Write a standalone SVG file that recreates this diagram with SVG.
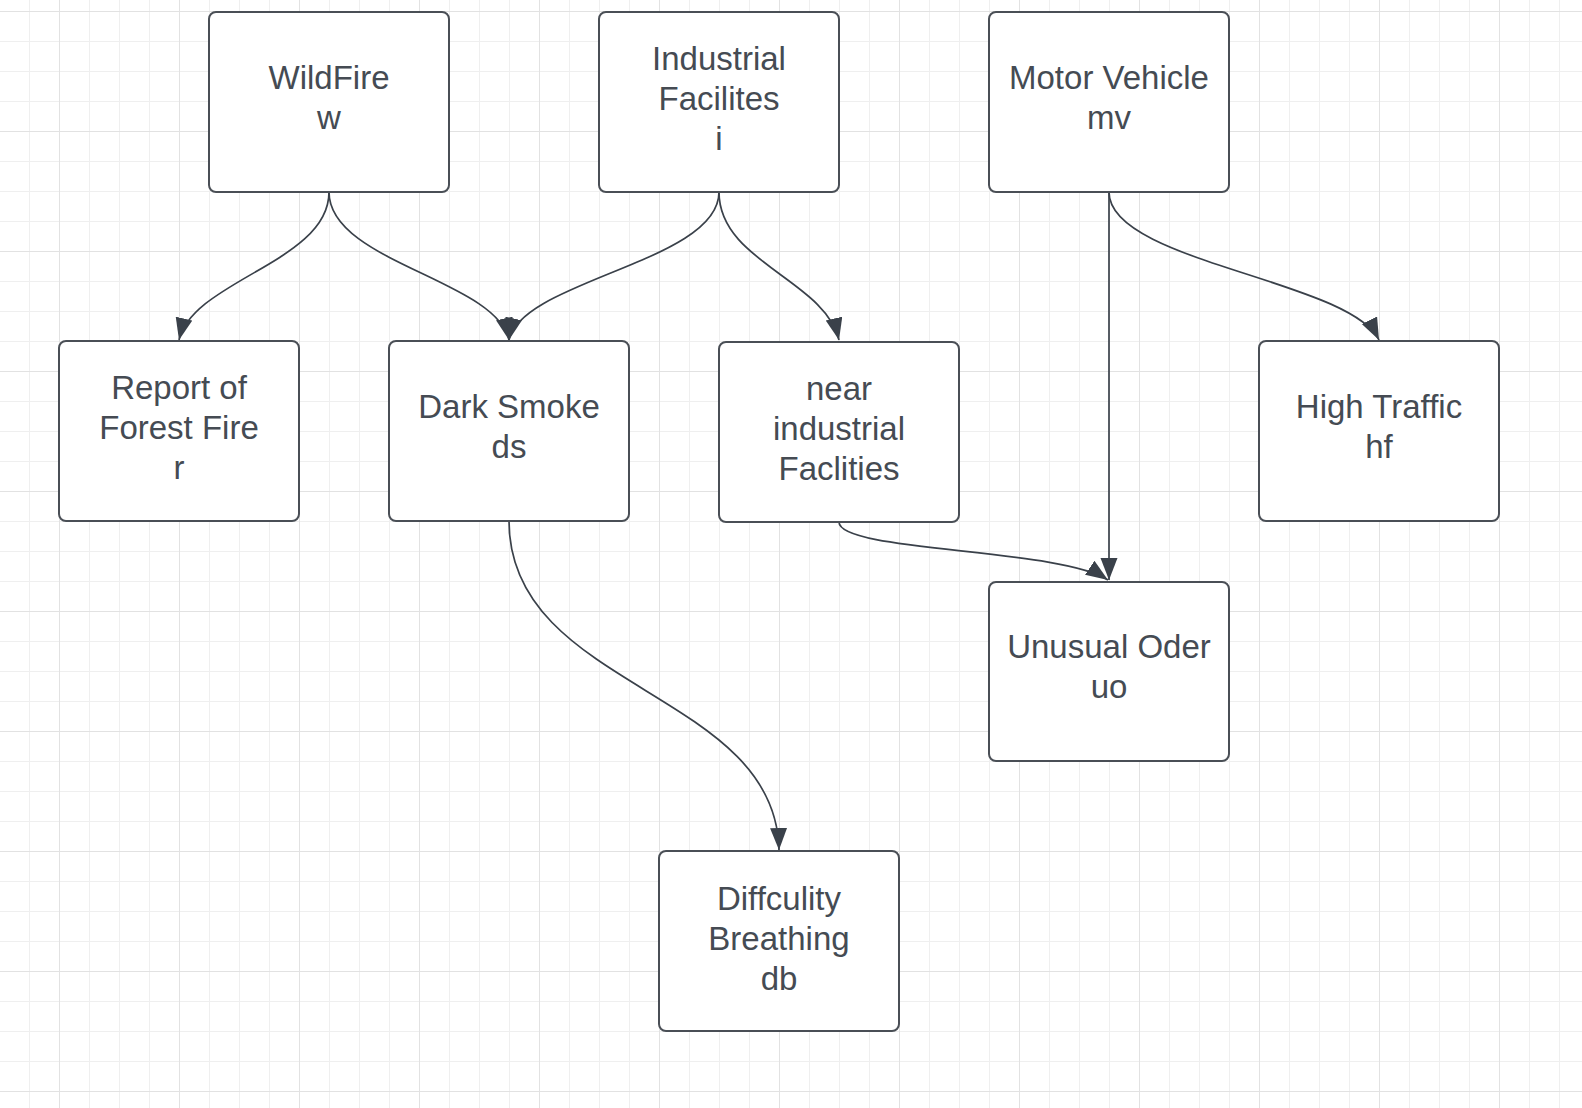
<svg xmlns="http://www.w3.org/2000/svg" width="1582" height="1108" viewBox="0 0 1582 1108">
  <defs>
    <pattern id="gridMinor" patternUnits="userSpaceOnUse" x="29" y="11" width="30" height="30">
      <rect x="0" y="0" width="1" height="30" fill="#efefef"/>
      <rect x="0" y="0" width="30" height="1" fill="#efefef"/>
    </pattern>
    <pattern id="gridMajor" patternUnits="userSpaceOnUse" x="59" y="11" width="120" height="120">
      <rect x="0" y="0" width="1" height="120" fill="#e2e2e2"/>
      <rect x="0" y="0" width="120" height="1" fill="#e2e2e2"/>
    </pattern>
    <marker id="arrow" markerUnits="userSpaceOnUse" markerWidth="24" markerHeight="18" refX="22" refY="8.5" orient="auto">
      <path d="M0,0 L22,8.5 L0,17 z" fill="#3a414a"/>
    </marker>
    <style>
      .box { fill: #ffffff; stroke: #4a4f56; stroke-width: 2; }
      .lbl { font-family: "Liberation Sans", Arial, sans-serif; font-size: 33px; fill: #454b53; text-anchor: middle; }
      .edge { fill: none; stroke: #3a414a; stroke-width: 1.7; marker-end: url(#arrow); }
    </style>
  </defs>

  <rect x="0" y="0" width="1582" height="1108" fill="#ffffff"/>
  <rect x="0" y="0" width="1582" height="1108" fill="url(#gridMinor)"/>
  <rect x="0" y="0" width="1582" height="1108" fill="url(#gridMajor)"/>

  <g id="connectors">
    <path class="edge" d="M329,192 C329,262 193,280 179,340"/>
    <path class="edge" d="M329,192 C329,262 496,280 509,340"/>
    <path class="edge" d="M719,192 C719,262 522,280 509,340"/>
    <path class="edge" d="M719,192 C719,262 825,280 839,340"/>
    <path class="edge" d="M1109,192 L1109,580"/>
    <path class="edge" d="M1109,192 C1109,262 1350,280 1379,340"/>
    <path class="edge" d="M839,522 C839,552 1060,548 1108,580"/>
    <path class="edge" d="M509,521 C509,690 776,690 779,850"/>
  </g>

  <g id="node-w">
    <rect class="box" x="209" y="12" width="240" height="180" rx="7"/>
    <text class="lbl" x="329" y="89">WildFire</text>
    <text class="lbl" x="329" y="129">w</text>
  </g>
  <g id="node-i">
    <rect class="box" x="599" y="12" width="240" height="180" rx="7"/>
    <text class="lbl" x="719" y="70">Industrial</text>
    <text class="lbl" x="719" y="110">Facilites</text>
    <text class="lbl" x="719" y="150">i</text>
  </g>
  <g id="node-mv">
    <rect class="box" x="989" y="12" width="240" height="180" rx="7"/>
    <text class="lbl" x="1109" y="89">Motor Vehicle</text>
    <text class="lbl" x="1109" y="129">mv</text>
  </g>
  <g id="node-r">
    <rect class="box" x="59" y="341" width="240" height="180" rx="7"/>
    <text class="lbl" x="179" y="399">Report of</text>
    <text class="lbl" x="179" y="439">Forest Fire</text>
    <text class="lbl" x="179" y="479">r</text>
  </g>
  <g id="node-ds">
    <rect class="box" x="389" y="341" width="240" height="180" rx="7"/>
    <text class="lbl" x="509" y="418">Dark Smoke</text>
    <text class="lbl" x="509" y="458">ds</text>
  </g>
  <g id="node-ni">
    <rect class="box" x="719" y="342" width="240" height="180" rx="7"/>
    <text class="lbl" x="839" y="400">near</text>
    <text class="lbl" x="839" y="440">industrial</text>
    <text class="lbl" x="839" y="480">Faclities</text>
  </g>
  <g id="node-hf">
    <rect class="box" x="1259" y="341" width="240" height="180" rx="7"/>
    <text class="lbl" x="1379" y="418">High Traffic</text>
    <text class="lbl" x="1379" y="458">hf</text>
  </g>
  <g id="node-uo">
    <rect class="box" x="989" y="582" width="240" height="179" rx="7"/>
    <text class="lbl" x="1109" y="658">Unusual Oder</text>
    <text class="lbl" x="1109" y="698">uo</text>
  </g>
  <g id="node-db">
    <rect class="box" x="659" y="851" width="240" height="180" rx="7"/>
    <text class="lbl" x="779" y="910">Diffculity</text>
    <text class="lbl" x="779" y="950">Breathing</text>
    <text class="lbl" x="779" y="990">db</text>
  </g>
</svg>
